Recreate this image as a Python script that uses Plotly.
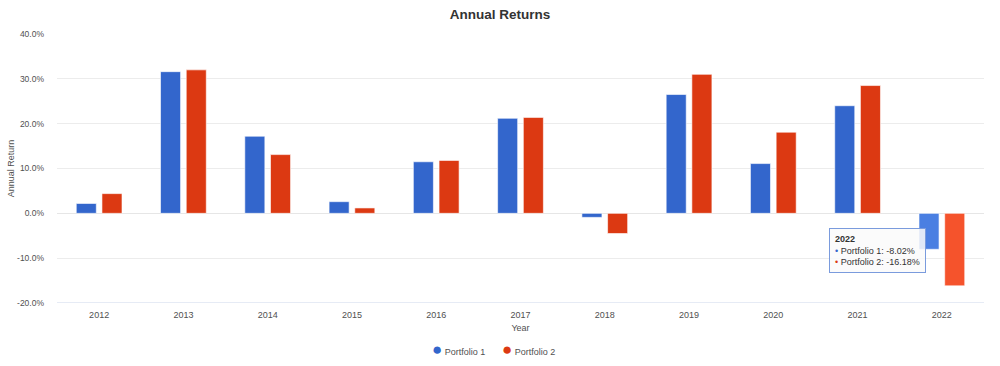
import plotly.graph_objects as go

years = ["2012", "2013", "2014", "2015", "2016", "2017", "2018", "2019", "2020", "2021", "2022"]
portfolio_1 = [2.2, 31.6, 17.2, 2.6, 11.5, 21.2, -0.9, 26.5, 11.1, 24.0, -8.02]
portfolio_2 = [4.4, 32.0, 13.1, 1.2, 11.8, 21.4, -4.5, 31.0, 18.1, 28.5, -16.18]
y_ticks = [-20, -10, 0, 10, 20, 30, 40]
y_tick_labels = ["-20.0%", "-10.0%", "0.0%", "10.0%", "20.0%", "30.0%", "40.0%"]
series_names = ["Portfolio 1", "Portfolio 2"]

blue, red = "#3366CC", "#DC3912"
blue_hi, red_hi = "#4A7FE2", "#F5532C"
hover_year = "2022"

c1 = [blue_hi if y == hover_year else blue for y in years]
c2 = [red_hi if y == hover_year else red for y in years]

FONT = "Liberation Sans, Arial"
TXT = "#505050"

fig = go.Figure()
fig.add_trace(go.Bar(x=years, y=portfolio_1, name=series_names[0],
                     marker=dict(color=c1, line=dict(color="rgba(255,255,255,0.6)", width=1)), showlegend=False))
fig.add_trace(go.Bar(x=years, y=portfolio_2, name=series_names[1],
                     marker=dict(color=c2, line=dict(color="rgba(255,255,255,0.6)", width=1)), showlegend=False))

i = years.index(hover_year)
tip = ("<b>" + hover_year + "</b><br>"
       f"<span style='color:{blue}'>•</span> {series_names[0]}: {portfolio_1[i]:.2f}%<br>"
       f"<span style='color:{red}'>•</span> {series_names[1]}: {portfolio_2[i]:.2f}%")
fig.add_annotation(x=i, y=-3.3, xref="x", yref="y", xanchor="right", yanchor="top", xshift=-16,
                   text=tip, showarrow=False, align="left",
                   font=dict(family=FONT, size=9, color="#333"),
                   bgcolor="rgba(250,250,250,0.85)", bordercolor="#7A9BDD", borderwidth=1, borderpad=5)

# legend drawn as text entries
legend_x = [0.402, 0.478]
for name, col, lx in zip(series_names, [blue, red], legend_x):
    fig.add_annotation(xref="paper", yref="paper", x=lx, y=-0.172, xanchor="left", yanchor="middle",
                       text=f"<span style='color:{col};font-size:17px'>●</span> {name}", showarrow=False,
                       font=dict(family=FONT, size=9, color=TXT))

fig.update_layout(
    width=1000, height=366,
    margin=dict(l=57, r=16, t=34, b=63, autoexpand=False),
    plot_bgcolor="white", paper_bgcolor="white",
    font=dict(family=FONT, size=9, color=TXT),
    title=dict(text="<b>Annual Returns</b>", x=0.5, xanchor="center", y=0.962, yanchor="middle",
               font=dict(size=13.5, color="#333")),
    barmode="group", bargap=0.39, bargroupgap=0.22,
    showlegend=False,
    xaxis=dict(type="category", automargin=False,
               title=dict(text="Year", font=dict(size=9, color=TXT), standoff=5),
               showgrid=False, showline=False, ticks="", tickfont=dict(size=9, color=TXT),
               ticklabelstandoff=5),
    yaxis=dict(automargin=False,
               title=dict(text="Annual Return", font=dict(size=9, color=TXT), standoff=0),
               range=[-20, 40], tickvals=y_ticks, ticktext=y_tick_labels,
               gridcolor="#ececec", gridwidth=1, zeroline=True, zerolinecolor="#e6e6e6", zerolinewidth=1,
               tickfont=dict(size=8.5, color=TXT), ticklabelstandoff=12),
    shapes=[dict(type="line", xref="paper", yref="y", x0=0, x1=1, y0=-20, y1=-20,
                 line=dict(color="#ccd6eb", width=1), layer="above")],
)

fig.write_html("out.html", config={"displayModeBar": False},
               post_script="document.body.style.margin='0';")
